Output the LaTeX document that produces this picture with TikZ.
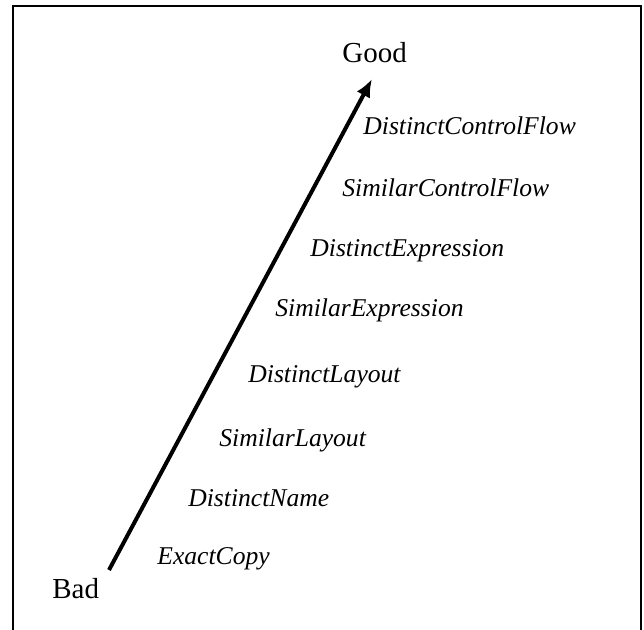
\documentclass[tikz,border=0pt]{standalone}
\usepackage{fontspec}
\setmainfont{Liberation Serif}
\usetikzlibrary{arrows.meta}

\tikzset{
  rung/.style={anchor=base west, inner sep=0pt, font=\fontsize{12.8}{14}\selectfont\itshape},
  pole/.style={anchor=base west, inner sep=0pt, font=\fontsize{14.5}{16}\selectfont},
  climb/.style={line width=2pt, -{Latex[length=9pt,width=7.5pt]}}
}

\begin{document}
\begin{tikzpicture}[x=0.5pt,y=-0.5pt]
\useasboundingbox (0,0) rectangle (644,630);
\draw[line width=1pt] (13,640) -- (13,6) -- (641,6) -- (641,640);

\node[pole] (good) at (342,63) {Good};
\node[pole] (bad) at (52,599) {Bad};

\coordinate (low) at (109,570);
\coordinate (high) at (372,79);
\draw[climb] (low) -- (high);

\node[rung] (dcf) at (363,135) {DistinctControlFlow};
\node[rung] (scf) at (342,197) {SimilarControlFlow};
\node[rung] (dex) at (310,257) {DistinctExpression};
\node[rung] (sex) at (275,317) {SimilarExpression};
\node[rung] (dla) at (248,383) {DistinctLayout};
\node[rung] (sla) at (219,447) {SimilarLayout};
\node[rung] (dna) at (188,507) {DistinctName};
\node[rung] (exc) at (157,565) {ExactCopy};
\end{tikzpicture}
\end{document}
